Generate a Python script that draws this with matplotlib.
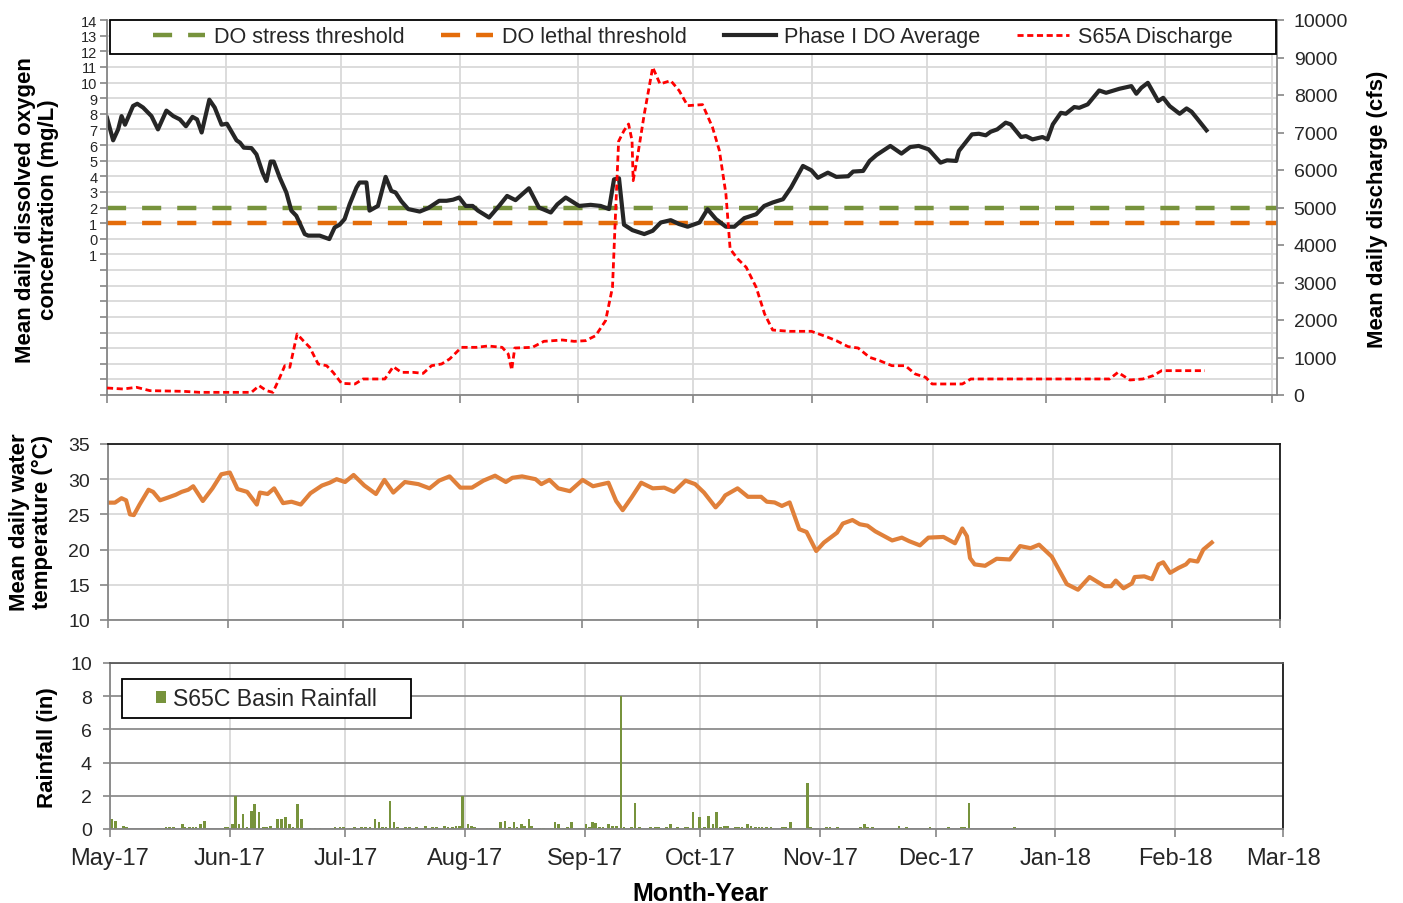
import pandas as pd
import matplotlib
matplotlib.use('Agg')
import matplotlib.pyplot as plt
import matplotlib.dates as mdates
from matplotlib.lines import Line2D
from matplotlib.patches import Patch, Rectangle

plt.rcParams['font.family'] = ['Liberation Sans', 'DejaVu Sans']

start = pd.Timestamp('2017-05-01')

# days since 1 May 2017 -> mean daily DO (mg/L)
do_day = [0, 1.6, 2.9, 3.8, 4.7, 6.8, 7.9, 9.4, 11.6, 13.3, 15.5, 17.3, 19.0, 20.6, 22.3, 23.5,
          24.7, 26.7, 28.1, 29.9, 31.3, 32.5, 33.8, 34.7, 35.7, 37.7, 39.0, 40.6, 41.6, 42.7, 43.5,
          45.1, 46.8, 48.1, 49.4, 51.6, 52.5, 55.5, 58.0, 59.4, 60.7, 62.0, 63.3, 65.1, 65.9, 67.7,
          68.5, 70.7, 72.7, 74.2, 75.3, 76.8, 78.6, 81.6, 83.8, 86.7, 88.6, 90.3, 91.9, 93.6, 95.4,
          96.8, 99.7, 102.3, 104.4, 106.6, 110.1, 112.7, 115.8, 117.5, 119.7, 123.2, 126.2, 128.8,
          131.0, 132.3, 133.6, 134.9, 137.1, 140.2, 142.4, 144.5, 147.1, 149.3, 151.5, 154.6, 156.7,
          158.9, 161.5, 163.7, 166.3, 169.4, 171.5, 173.7, 176.4, 178.5, 181.6, 183.8, 185.5, 188.1,
          190.3, 193.4, 194.7, 197.3, 199.0, 200.8, 204.4, 207.3, 209.6, 211.8, 214.4, 217.5, 219.2,
          221.6, 222.3, 224.0, 225.7, 227.5, 229.3, 230.6, 232.3, 234.5, 235.8, 238.5, 239.8, 241.5,
          244.1, 245.4, 246.8, 248.9, 250.2, 252.4, 253.7, 255.9, 258.9, 260.7, 264.2, 267.3, 268.6,
          269.9, 271.6, 274.3, 275.6, 277.3, 279.9, 281.7, 283.0, 284.3, 286.9]
do_val = [7.74, 6.3, 7.0, 7.85, 7.3, 8.5, 8.64, 8.4, 7.85, 7.0, 8.2, 7.85, 7.64, 7.2, 7.8, 7.64,
          6.8, 8.9, 8.4, 7.3, 7.36, 6.85, 6.3, 6.15, 5.83, 5.8, 5.4, 4.23, 3.7, 4.94, 4.94,
          3.9, 2.96, 1.8, 1.47, 0.3, 0.2, 0.2, -0.02, 0.72, 0.9, 1.26, 2.2, 3.28, 3.6, 3.6,
          1.8, 2.1, 3.96, 3.06, 2.96, 2.4, 1.9, 1.74, 1.96, 2.43, 2.43, 2.5, 2.64, 2.1, 2.1,
          1.8, 1.36, 2.1, 2.74, 2.47, 3.23, 2.0, 1.68, 2.2, 2.64, 2.1, 2.17, 2.1,
          1.9, 3.8, 3.87, 0.9, 0.55, 0.3, 0.51, 1.04, 1.19, 0.94, 0.77, 1.04, 1.89,
          1.26, 0.77, 0.77, 1.32, 1.57, 2.1, 2.32, 2.53, 3.28, 4.66, 4.38, 3.9, 4.23,
          3.96, 4.0, 4.3, 4.34, 4.98, 5.36, 5.94, 5.45, 5.87, 5.94, 5.72, 4.87, 5.02,
          4.98, 5.62, 6.15, 6.68, 6.72, 6.62, 6.85, 7.0, 7.43, 7.32, 6.51, 6.57, 6.36,
          6.51, 6.36, 7.32, 8.06, 8.0, 8.43, 8.38, 8.6, 9.49, 9.34, 9.6, 9.77, 9.28,
          9.66, 9.98, 8.81, 9.02, 8.49, 8.0, 8.34, 8.13, 7.74, 6.94]

# S65A discharge (cfs)
q_day = [0, 4.2, 7.7, 11.2, 19.9, 24.2, 31.2, 37.7, 39.7, 41.6, 43.3, 45.1, 46.4, 47.7, 49.6,
         51.2, 52.9, 55.1, 57.3, 59.0, 61.2, 64.7, 66.8, 69.4, 72.5, 74.7, 76.8, 79.9, 82.5, 84.7,
         87.3, 89.4, 92.5, 96.4, 99.4, 103.1, 104.7, 105.6, 106.4, 111.0, 114.0, 118.8, 121.9,
         124.9, 127.5, 130.1, 131.9, 132.8, 133.5, 134.9, 136.1, 137.0, 137.3, 138.4, 140.2, 142.4,
         144.3, 147.1, 149.3, 151.5, 155.4, 158.0, 159.8, 161.5, 162.6, 164.6, 166.8, 169.4, 171.6,
         173.7, 178.1, 183.8, 187.7, 190.3, 193.4, 196.0, 199.0, 201.6, 204.8, 208.3, 210.9, 213.6,
         215.3, 223.2, 225.4, 236.3, 246.8, 261.6, 263.8, 266.9, 270.3, 273.0, 275.2, 279.9, 286.5]
q_val = [187, 160, 205, 116, 98, 71, 71, 71, 249, 116, 71, 471, 782, 738, 1627,
         1449, 1271, 827, 782, 604, 311, 294, 427, 427, 427, 756, 604, 604, 578, 782,
         827, 960, 1271, 1271, 1307, 1271, 1093, 667, 1253, 1271, 1431, 1467, 1431,
         1449, 1582, 1982, 2871, 5094, 6765, 7050, 7227, 6783, 5716, 6338, 7494, 8738,
         8294, 8383, 8116, 7716, 7743, 7138, 6516, 5360, 3894, 3627, 3405, 2871, 2160,
         1733, 1698, 1698, 1556, 1449, 1289, 1253, 1004, 916, 782, 782, 560, 471,
         294, 294, 427, 427, 427, 427, 604, 400, 427, 516, 649, 649, 649]

# mean daily water temperature (C)
t_day = [0, 1.8, 3.5, 4.7, 5.7, 6.7, 8.2, 10.5, 11.7, 13.5, 15.6, 17.6, 19.1, 20.8, 22.1, 24.6,
         27.1, 29.4, 31.6, 33.6, 36.1, 38.6, 39.4, 41.4, 43.1, 45.4, 47.6, 50.0, 52.5, 55.5, 57.5,
         59.3, 61.5, 63.7, 66.5, 69.5, 71.7, 74.0, 77.0, 80.5, 83.4, 85.9, 88.6, 91.4, 94.4, 97.4,
         100.4, 103.2, 104.9, 107.4, 110.9, 112.4, 114.5, 116.8, 119.8, 123.1, 125.8, 129.8, 131.8,
         133.5, 135.8, 138.3, 141.3, 144.3, 146.8, 149.8, 152.3, 154.6, 157.6, 159.1, 160.1, 163.3,
         166.0, 169.4, 170.9, 172.9, 174.8, 176.8, 179.3, 181.2, 183.7, 185.7, 189.1, 190.6, 193.1,
         195.0, 197.0, 199.0, 201.4, 203.4, 205.9, 207.8, 210.6, 212.8, 216.7, 219.7, 221.6, 222.8,
         223.6, 224.8, 227.5, 230.5, 233.9, 236.6, 239.3, 241.5, 244.8, 246.7, 248.7, 251.6, 254.6,
         258.5, 260.2, 261.4, 263.4, 265.6, 266.3, 268.8, 270.8, 272.5, 273.7, 275.5, 277.7, 279.6,
         280.6, 282.6, 284.1, 286.3]
t_val = [26.67, 26.67, 27.3, 27.0, 25.0, 24.9, 26.4, 28.5, 28.2, 27.0, 27.4, 27.8, 28.2, 28.5, 29.0, 26.9,
         28.7, 30.7, 30.95, 28.6, 28.2, 26.4, 28.1, 27.9, 28.7, 26.6, 26.8, 26.4, 28.0, 29.1, 29.5,
         30.0, 29.6, 30.6, 29.1, 27.9, 29.9, 28.1, 29.6, 29.3, 28.7, 29.8, 30.4, 28.8, 28.8, 29.8,
         30.5, 29.6, 30.2, 30.4, 30.0, 29.3, 29.9, 28.7, 28.3, 29.9, 29.0, 29.5, 26.9,
         25.6, 27.4, 29.5, 28.7, 28.8, 28.2, 29.8, 29.3, 28.1, 26.0, 26.9, 27.7, 28.7,
         27.5, 27.5, 26.8, 26.7, 26.2, 26.7, 22.9, 22.5, 19.8, 21.0, 22.4, 23.7, 24.2,
         23.6, 23.4, 22.6, 21.9, 21.3, 21.7, 21.2, 20.6, 21.7, 21.8, 20.9, 23.0, 21.9,
         18.8, 17.9, 17.7, 18.7, 18.6, 20.5, 20.2, 20.7, 19.0, 17.1, 15.1, 14.3, 16.1,
         14.8, 14.8, 15.6, 14.5, 15.2, 16.1, 16.2, 15.8, 17.9, 18.2, 16.7, 17.4, 17.9,
         18.5, 18.3, 20.0, 21.0]

# S65C basin rainfall (in)
r_day = [0.3, 1.4, 3.5, 4.3, 12.6, 14.5, 15.4, 16.5, 18.7, 19.4, 20.6, 21.5, 22.3, 23.5, 24.5,
         30.0, 30.6, 31.7, 32.6, 33.4, 34.5, 35.5, 36.6, 37.5, 38.6, 39.7, 40.5, 41.6, 43.5, 44.4,
         45.5, 46.6, 47.4, 48.6, 49.6, 51.8, 53.1, 54.4, 57.4, 58.3, 59.6, 60.6, 62.2, 63.4, 65.2,
         66.3, 67.4, 68.7, 69.7, 70.6, 71.5, 72.6, 73.6, 74.5, 76.5, 77.7, 79.5, 81.8, 83.5, 84.7,
         86.7, 87.6, 88.7, 89.7, 90.5, 91.3, 92.8, 93.6, 94.5, 97.7, 98.6, 99.7, 101.2, 102.4,
         103.5, 104.7, 105.5, 106.6, 107.4, 108.6, 109.3, 111.3, 112.4, 114.4, 115.3, 116.2, 117.6,
         118.5, 119.6, 121.6, 123.4, 124.3, 125.1, 125.9, 126.8, 127.8, 129.2, 130.3, 131.2, 132.4,
         133.2, 135.2, 136.1, 137.2, 140.1, 141.3, 142.1, 144.2, 145.3, 147.0, 149.0, 149.7, 151.1,
         152.8, 154.0, 155.1, 156.3, 157.1, 158.2, 159.2, 160.1, 162.1, 162.9, 163.8, 165.2, 166.1,
         167.3, 168.2, 169.0, 170.1, 171.3, 174.2, 175.1, 176.3, 180.7, 181.6, 185.7, 186.6, 188.5,
         194.5, 195.6, 196.4, 197.6, 204.5, 206.5, 212.5, 217.4, 220.6, 221.5, 222.6, 234.4]
r_val = [0.6, 0.5, 0.2, 0.1, 0.08, 0.1, 0.1, 0.1, 0.3, 0.15, 0.1, 0.1, 0.1, 0.3, 0.5,
         0.1, 0.1, 0.3, 2.0, 0.3, 0.9, 0.1, 1.1, 1.5, 1.0, 0.1, 0.1, 0.2, 0.6, 0.6,
         0.7, 0.3, 0.1, 1.5, 0.6, 0.08, 0.08, 0.08, 0.08, 0.1, 0.1, 0.15, 0.08, 0.15, 0.1,
         0.1, 0.1, 0.6, 0.4, 0.15, 0.1, 1.7, 0.4, 0.1, 0.1, 0.15, 0.15, 0.2, 0.1, 0.1,
         0.2, 0.1, 0.1, 0.2, 0.2, 2.0, 0.3, 0.2, 0.15, 0.08, 0.08, 0.08, 0.4, 0.5,
         0.1, 0.4, 0.1, 0.3, 0.2, 0.6, 0.2, 0.08, 0.08, 0.08, 0.4, 0.3, 0.08,
         0.1, 0.4, 0.08, 0.3, 0.1, 0.4, 0.35, 0.15, 0.1, 0.3, 0.2, 0.2, 8.0,
         0.1, 0.1, 1.55, 0.1, 0.1, 0.1, 0.1, 0.1, 0.3, 0.1, 0.1, 0.1, 1.0,
         0.7, 0.1, 0.8, 0.3, 1.0, 0.1, 0.2, 0.2, 0.1, 0.1, 0.1, 0.3, 0.2,
         0.1, 0.1, 0.1, 0.1, 0.1, 0.1, 0.1, 0.4, 2.76, 0.1, 0.1, 0.1, 0.1,
         0.1, 0.3, 0.1, 0.1, 0.2, 0.1, 0.1, 0.1, 0.1, 0.1, 1.56, 0.1]

stress_do = 2
lethal_do = 1


def to_dates(days):
    return start + pd.to_timedelta(days, unit='D')


GRID = '#D9D9D9'
SPINE = '#868686'
TXT = '#262626'
green = '#77933C'
orange = '#E46C0A'

fig = plt.figure(figsize=(14.03, 9.04), dpi=100)
W, H = 1403, 904
ax1 = fig.add_axes([107 / W, 1 - 396 / H, 1170 / W, 375 / H])
ax2 = fig.add_axes([108 / W, 1 - 621 / H, 1172 / W, 176 / H])
ax3 = fig.add_axes([110 / W, 1 - 830 / H, 1173 / W, 166 / H])

x0 = pd.Timestamp('2017-05-01')
x1 = pd.Timestamp('2018-03-01')

for ax in (ax1, ax2, ax3):
    ax.set_xlim(x0, x1)
    ax.xaxis.set_major_locator(mdates.MonthLocator())
    ax.xaxis.set_major_formatter(mdates.DateFormatter('%b-%y'))
    ax.set_axisbelow(True)
    ax.tick_params(axis='x', direction='out', length=6, width=1.2, color=SPINE)
    ax.tick_params(axis='y', direction='out', width=1.2, color=SPINE, labelcolor=TXT)
    for s in ('left', 'bottom'):
        ax.spines[s].set_color(SPINE)
        ax.spines[s].set_linewidth(1.3)
ax1.set_xlim(x0, x1 + pd.Timedelta(days=1.3))

# ---- top panel: DO and discharge
ax1.set_ylim(-10, 14)
ax1.set_yticks(range(-10, 15))
ax1.set_yticklabels(['1' if v == -1 else (str(v) if v >= 0 else '') for v in range(-10, 15)])
ax1.tick_params(axis='y', length=5, pad=2, labelsize=10.5)
ax1.tick_params(axis='x', labelbottom=False)
ax1.grid(True, color=GRID, lw=1.3)
ax1.spines['top'].set_visible(False)
ax1.spines['right'].set_visible(False)

ax1.axhline(stress_do, color=green, lw=3.2, ls=(0, (4.3, 3.6)))
ax1.axhline(lethal_do, color=orange, lw=3.2, ls=(0, (4.3, 3.6)))
ax1.plot(to_dates(do_day), do_val, color='#262626', lw=3)

axr = ax1.twinx()
axr.set_ylim(0, 10000)
axr.set_yticks(range(0, 10001, 1000))
axr.tick_params(axis='y', direction='out', length=5, width=1.2, color=SPINE,
                labelcolor=TXT, labelsize=14, pad=7)
for s in ('top', 'left'):
    axr.spines[s].set_visible(False)
axr.spines['right'].set_color(SPINE)
axr.spines['right'].set_linewidth(1.3)
axr.spines['bottom'].set_visible(False)
axr.plot(to_dates(q_day), q_val, color='#FF0000', lw=2, ls=(0, (2.2, 1.3)))

axr.add_patch(Rectangle((3 / 1170, 341 / 375), 1166 / 1170, 34 / 375, transform=axr.transAxes,
                        facecolor='white', edgecolor='black', lw=1.3, zorder=5, clip_on=False))
handles = [Line2D([], [], color=green, lw=3.2, ls=(0, (4.3, 3.6))),
           Line2D([], [], color=orange, lw=3.2, ls=(0, (4.3, 3.6))),
           Line2D([], [], color='#262626', lw=3),
           Line2D([], [], color='#FF0000', lw=2, ls=(0, (2.2, 1.3)))]
labels = ['DO stress threshold', 'DO lethal threshold', 'Phase I DO Average', 'S65A Discharge']
leg = axr.legend(handles, labels, loc='center', bbox_to_anchor=(0.5009, 0.9547), ncol=4,
                 frameon=False, fontsize=15.6, handlelength=2.4, handletextpad=0.4,
                 columnspacing=1.7)
leg.set_zorder(6)
for t in leg.get_texts():
    t.set_color(TXT)

# ---- middle panel: water temperature
ax2.set_ylim(10, 35)
ax2.set_yticks(range(10, 36, 5))
ax2.tick_params(axis='y', length=6, pad=7, labelsize=14)
ax2.tick_params(axis='x', labelbottom=False)
ax2.grid(True, color=GRID, lw=1.3)
for s in ('top', 'right'):
    ax2.spines[s].set_color('#1A1A1A')
    ax2.spines[s].set_linewidth(1.3)
ax2.plot(to_dates(t_day), t_val, color='#E0803A', lw=3)

# ---- bottom panel: rainfall
ax3.set_ylim(0, 10)
ax3.set_yticks(range(0, 11, 2))
ax3.tick_params(axis='y', length=5, pad=8, labelsize=14)
ax3.tick_params(axis='x', labelsize=17, pad=7, labelcolor=TXT)
ax3.grid(True, axis='x', color=GRID, lw=1.3)
ax3.grid(True, axis='y', color='#8C8C8C', lw=1.3)
ax3.spines['top'].set_color('#595959')
ax3.spines['top'].set_linewidth(1.3)
ax3.spines['right'].set_color('#1A1A1A')
ax3.spines['right'].set_linewidth(1.3)
ax3.bar(to_dates(r_day), r_val, width=0.7, color=green)

ax3.add_patch(Rectangle((12 / 1173, 111 / 166), 289 / 1173, 39 / 166, transform=ax3.transAxes,
                        facecolor='white', edgecolor='black', lw=1.3, zorder=5))
leg3 = ax3.legend([Patch(facecolor=green)], ['S65C Basin Rainfall'], loc='center',
                  bbox_to_anchor=(((122 + 411) / 2 - 110) / 1173, (830 - 699.5) / 166),
                  frameon=False, fontsize=16.6, handlelength=0.45, handleheight=0.45,
                  handletextpad=0.3)
leg3.set_zorder(6)
for t in leg3.get_texts():
    t.set_color(TXT)

# ---- axis titles
lab = dict(fontsize=16, fontweight='bold', rotation=90, ha='center', va='center',
           multialignment='center', linespacing=1.1, color='black')
fig.text(37 / W, 1 - 210 / H, 'Mean daily dissolved oxygen\nconcentration (mg/L)', **lab)
fig.text(1378 / W, 1 - 209 / H, 'Mean daily discharge (cfs)', **lab)
fig.text(31 / W, 1 - 522 / H, 'Mean daily water\ntemperature (°C)', **lab)
fig.text(48 / W, 1 - 748 / H, 'Rainfall (in)', **lab)
fig.text(700 / W, 1 - 894 / H, 'Month-Year', fontsize=18, fontweight='bold',
         ha='center', va='center', color='black')

fig.savefig('out.png', dpi=100)
